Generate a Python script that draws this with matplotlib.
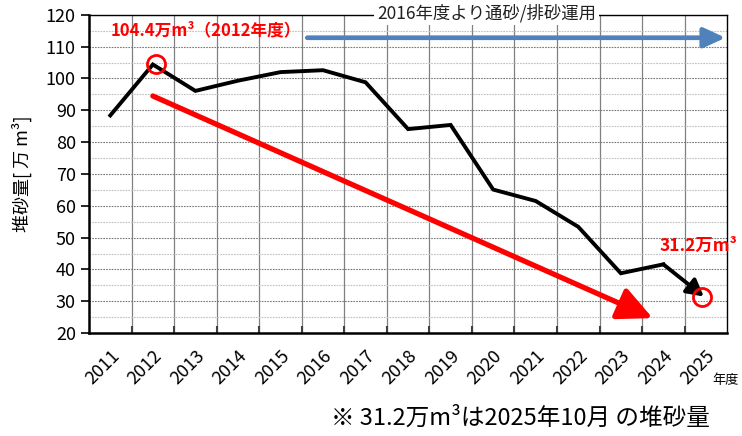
import numpy as np
import matplotlib.pyplot as plt
from matplotlib.ticker import MultipleLocator, FixedLocator

plt.rcParams['font.family'] = ['Noto Sans CJK JP', 'DejaVu Sans']

years = ['2011', '2012', '2013', '2014', '2015', '2016', '2017', '2018',
         '2019', '2020', '2021', '2022', '2023', '2024', '2025']
volume = [88.4, 104.4, 96.1, 99.3, 102.0, 102.6, 98.8, 84.1,
          85.4, 65.1, 61.5, 53.4, 38.8, 41.6, 31.2]

# trend arrow (start / end in category index + value)
trend_x = [1.0, 12.75]
trend_y = [94.5, 24.7]

# operation arrow
op_x = [4.63, 14.46]
op_y = [112.8, 112.8]

red = '#FF0000'
blue = '#4F81BD'

fig = plt.figure(figsize=(7.42, 4.36), dpi=100)
ax = fig.add_axes([0.120, 0.236, 0.860, 0.730])

x = np.arange(len(years))
ax.set_xlim(-0.5, len(years) - 0.5)
ax.set_ylim(20, 120)

# grid
ax.yaxis.set_major_locator(MultipleLocator(10))
ax.yaxis.set_minor_locator(MultipleLocator(5))
ax.grid(axis='y', which='major', color='#7a7a7a', linestyle=(0, (1.5, 1)), linewidth=0.8)
ax.grid(axis='y', which='minor', color='#c0c0c0', linestyle=(0, (1.5, 1)), linewidth=0.8)
for b in np.arange(0.5, len(years) - 0.5, 1):
    ax.axvline(b, color='#808080', linewidth=0.9, zorder=1)

ax.set_xticks(x)
ax.set_xticklabels(years, rotation=45, ha='right', rotation_mode='anchor', fontsize=13)
ax.tick_params(axis='x', which='major', length=0, pad=10)
ax.xaxis.set_minor_locator(FixedLocator(np.arange(0.5, len(years) - 0.5, 1)))
ax.tick_params(axis='x', which='minor', direction='in', length=5, width=1.5, color='#404040')
ax.tick_params(axis='y', which='major', direction='out', length=6, width=1.2, labelsize=13)
ax.tick_params(axis='y', which='minor', length=0)

for s in ['left', 'bottom']:
    ax.spines[s].set_linewidth(1.8)
for s in ['right', 'top']:
    ax.spines[s].set_linewidth(1.0)

ax.set_ylabel('堆砂量[ 万 m³]', fontsize=13, labelpad=10)

# main series
ax.plot(x[:-1], volume[:-1], color='black', linewidth=2.8, solid_joinstyle='miter', zorder=4)
ax.annotate('', xy=(x[-1] - 0.05, volume[-1] + 0.3), xytext=(x[-2], volume[-2]),
            arrowprops=dict(arrowstyle='-|>,head_length=1.0,head_width=0.55',
                            color='black', linewidth=2.8, shrinkA=0, shrinkB=0), zorder=4)

# red trend arrow
ax.annotate('', xy=(trend_x[1], trend_y[1]), xytext=(trend_x[0], trend_y[0]),
            arrowprops=dict(arrowstyle='-|>,head_length=2.1,head_width=1.0',
                            color=red, linewidth=3.8, shrinkA=0, shrinkB=0), zorder=3)

# blue operation arrow
ax.annotate('', xy=(op_x[1], op_y[1]), xytext=(op_x[0], op_y[0]),
            arrowprops=dict(arrowstyle='-|>,head_length=1.3,head_width=0.6',
                            color=blue, linewidth=3.4, shrinkA=0, shrinkB=0),
            annotation_clip=False, zorder=5)

# circles
ax.plot([x[1] + 0.08, x[-1] - 0.1], [volume[1], volume[-1] + 0.3], 'o', markersize=13,
        markerfacecolor='none', markeredgecolor=red, markeredgewidth=2.0, zorder=6, clip_on=False)

ax.text(0.0, 115.2, '104.4万m³（2012年度）', color=red, fontsize=12, fontweight='bold',
        ha='left', va='center', zorder=6)
ax.text(14.75, 47.3, '31.2万m³', color=red, fontsize=12.5, fontweight='bold',
        ha='right', va='center', zorder=6)
ax.text(8.84, 120.6, '2016年度より通砂/排砂運用', color='#202020', fontsize=12.5,
        ha='center', va='center', zorder=7,
        bbox=dict(facecolor='white', edgecolor='none', pad=2))

fig.text(0.960, 0.128, '年度', fontsize=9.5, ha='left', va='center')
fig.text(0.957, 0.040, '※ 31.2万m³は2025年10月 の堆砂量', fontsize=17, ha='right', va='center')

fig.savefig('out.png', dpi=100)
